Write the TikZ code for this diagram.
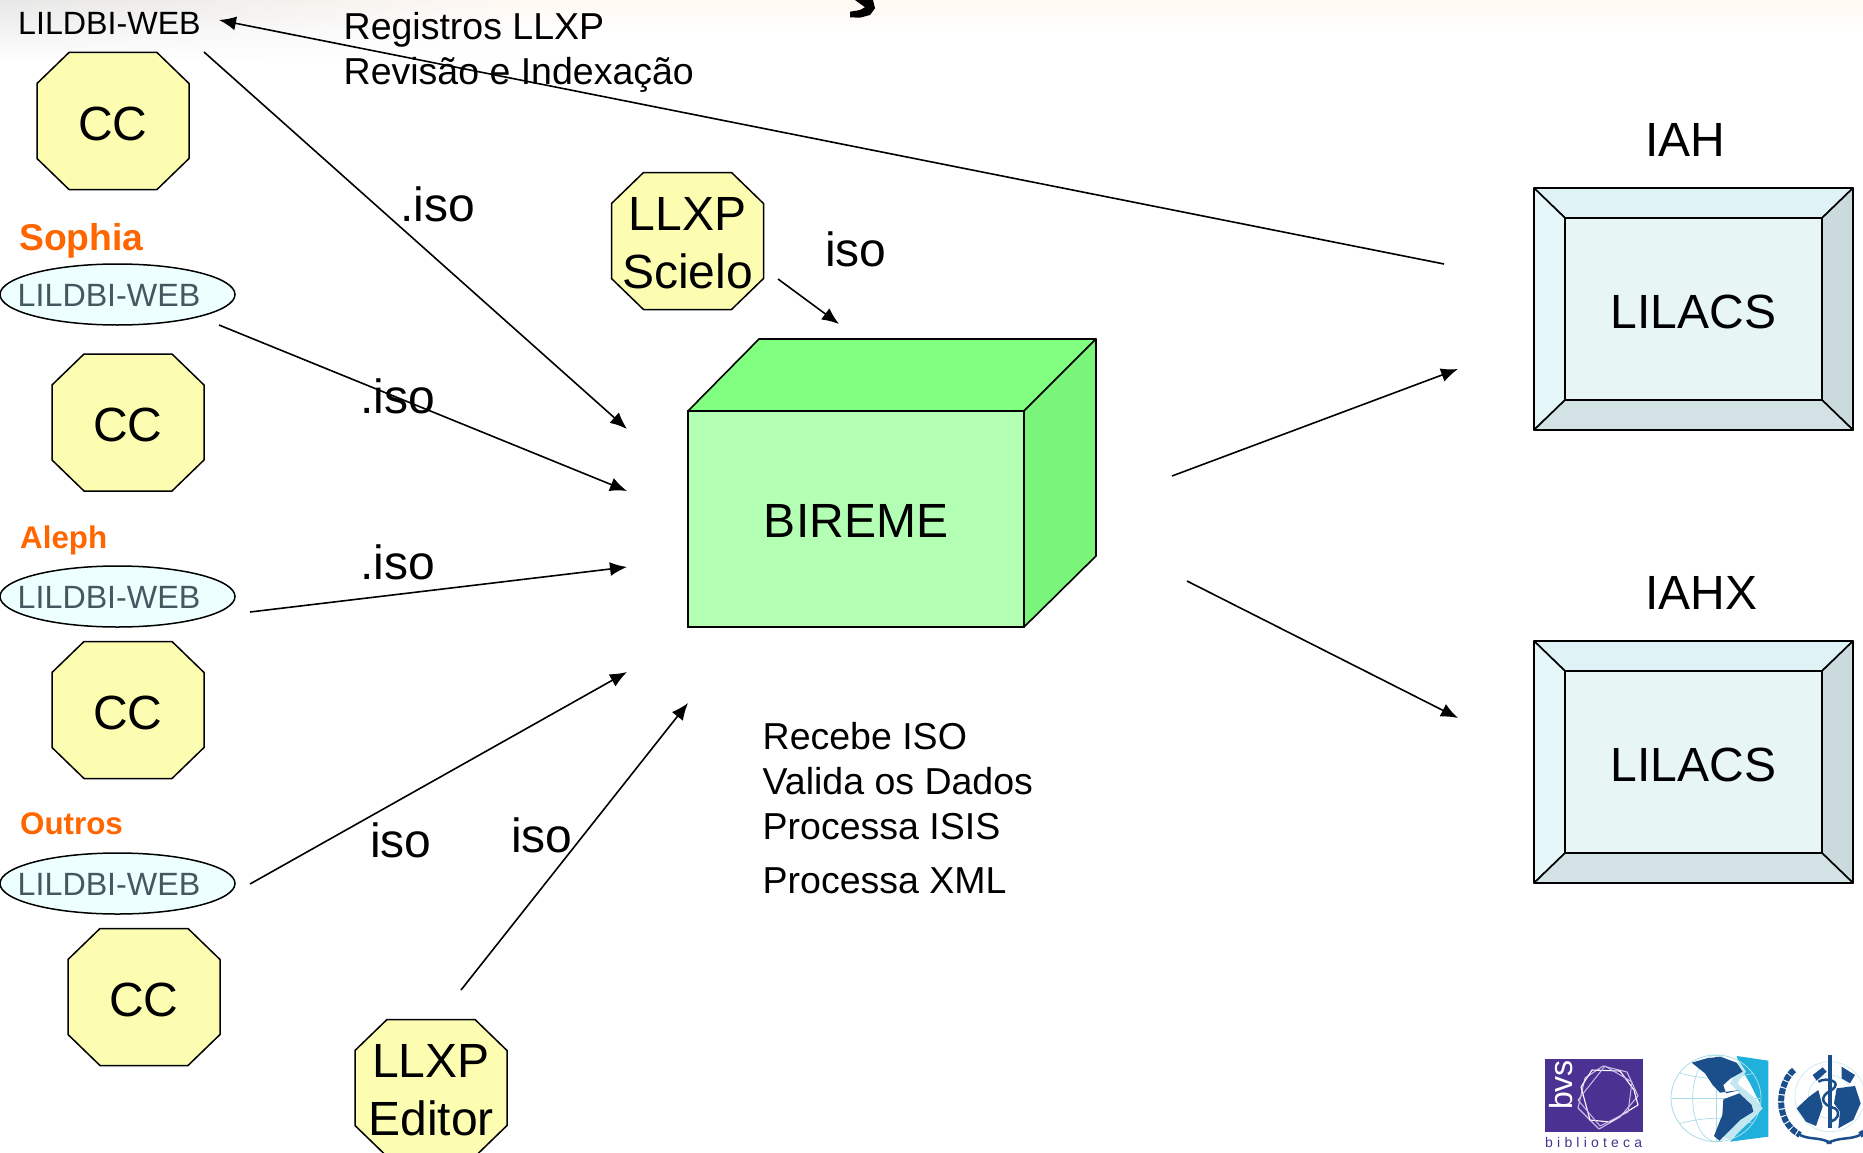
\documentclass[tikz,border=0pt]{standalone}
\usepackage{fontspec}
\setmainfont{Liberation Sans}
\newfontfamily\spacedfont[LetterSpace=30]{Liberation Sans}
\usetikzlibrary{arrows.meta,shapes.geometric,fadings}
\definecolor{octfill}{HTML}{FDFDB2}
\definecolor{ellfill}{HTML}{EEFFFF}
\definecolor{elltext}{HTML}{44595F}
\definecolor{orng}{HTML}{FF6600}
\definecolor{frontg}{HTML}{B3FFB3}
\definecolor{topg}{HTML}{80FF80}
\definecolor{sideg}{HTML}{7AF47A}
\definecolor{bvT}{HTML}{DFF3F6}
\definecolor{bvL}{HTML}{E6F7F9}
\definecolor{bvR}{HTML}{CBDADD}
\definecolor{bvB}{HTML}{D2E2E5}
\definecolor{bvC}{HTML}{E8F5F5}
\definecolor{bvspurple}{HTML}{4B3292}
\definecolor{bvslav}{HTML}{C9BDE8}
\definecolor{whoblue}{HTML}{1B4F8C}
\definecolor{panelblue}{HTML}{1FB1DC}
\definecolor{gridblue}{HTML}{A9DDEA}
\tikzset{
  octface/.style={draw=black,line width=1.5pt,fill=octfill,line join=round},
  octtext/.style={align=center,inner sep=0pt,font=\fontsize{48}{58}\selectfont},
  ell/.style={ellipse,draw=black,line width=1.5pt,fill=ellfill,minimum width=235pt,minimum height=61pt,
    inner sep=0pt,
    label={[inner sep=0pt,xshift=-8.5pt,yshift=-1pt,text=elltext,font=\fontsize{32.2}{32}\selectfont]center:LILDBI-WEB}},
  lbl/.style={inner sep=0pt,anchor=base west,font=\fontsize{37.5}{37}\selectfont},
  big/.style={inner sep=0pt,anchor=base west,font=\fontsize{48}{48}\selectfont},
  org/.style={inner sep=0pt,anchor=base west,text=orng,font=\fontsize{31.3}{31}\selectfont\bfseries},
  conn/.style={line width=1.6pt,-{Latex[length=17pt,width=14pt]}},
  plain/.style={draw=black,line width=1.6pt,line join=round},
}
% octagon: name, x, y, text
\newcommand{\octagon}[4]{%
  \begin{scope}[shift={(#2,#3)}]
    \path[octface] (-44,-68.5)--(44,-68.5)--(76,-37.5)--(76,37.5)--(44,68.5)--(-44,68.5)--(-76,37.5)--(-76,-37.5)--cycle;
    \node[octtext] (#1) at (0,2.5) {#4};
  \end{scope}}
\newcommand{\bevelbox}[3]{%
  \begin{scope}[shift={(0,#2)}]
    \path[plain,fill=bvT] (1534,188)--(1853,188)--(1822,218)--(1565,218)--cycle;
    \path[plain,fill=bvL] (1534,188)--(1565,218)--(1565,400)--(1534,430)--cycle;
    \path[plain,fill=bvR] (1853,188)--(1853,430)--(1822,400)--(1822,218)--cycle;
    \path[plain,fill=bvB] (1534,430)--(1565,400)--(1822,400)--(1853,430)--cycle;
    \node[draw=black,line width=1.6pt,fill=bvC,minimum width=257pt,minimum height=182pt,inner sep=0pt,
      label={[inner sep=0pt,yshift=-3pt,font=\fontsize{48}{48}\selectfont]center:#3}] (#1) at (1693.5,309) {};
  \end{scope}}
\begin{document}
\begin{tikzpicture}[x=1pt,y=-1pt]
\useasboundingbox (0,0) rectangle (1863,1153);
\clip (0,0) rectangle (1863,1153);
% background
\fill[white] (0,0) rectangle (1863,1153);
\shade[top color=orange!5!white,bottom color=white] (0,0) rectangle (1863,32);
\shade[top color=black!9,bottom color=white,path fading=east] (0,0) rectangle (520,62);
% fragment of cut-off title
\fill[black] (850,11.7)--(860,10)--(865,7.3)--(855,0)--(873,0)--(875,8.3)--(870,15)--(860,17.7)--(850,17.3)--cycle;

% left column
\node[lbl,font=\fontsize{32.2}{32}\selectfont] (top) at (18,35) {LILDBI-WEB};
\octagon{cc1}{113}{121}{CC}
\node[org,font=\fontsize{37.3}{37}\selectfont\bfseries] (sophia) at (19,250) {Sophia};
\node[ell] (e1) at (117.5,294.5) {};
\octagon{cc2}{128}{422.5}{CC}
\node[org] (aleph) at (20,548) {Aleph};
\node[ell] (e2) at (117.5,596.5) {};
\octagon{cc3}{128}{710}{CC}
\node[org] (outros) at (20,834) {Outros};
\node[ell] (e3) at (117.5,883.5) {};
\octagon{cc4}{144}{997}{CC}

\octagon{scielo}{687.5}{241}{LLXP\\Scielo}
\octagon{editor}{431}{1088}{LLXP\\Editor}

% BIREME box
\path[plain,fill=topg] (688,411)--(759,339)--(1096,339)--(1024,411)--cycle;
\path[plain,fill=sideg] (1024,411)--(1096,339)--(1096,556)--(1024,627)--cycle;
\node[draw=black,line width=1.6pt,fill=frontg,minimum width=336pt,minimum height=216pt,inner sep=0pt,
  label={[inner sep=0pt,yshift=-2.4pt,font=\fontsize{48}{48}\selectfont]center:BIREME}] (bireme) at (856,519) {};

% LILACS boxes
\bevelbox{lil1}{0}{LILACS}
\bevelbox{lil2}{453}{LILACS}

% labels
\node[lbl] (reg) at (343.5,40) {Registros LLXP};
\node[lbl] (rev) at (343.5,85) {Revisão e Indexação};
\node[big] (iso1) at (400,221) {.iso};
\node[big] (iso2) at (360,413) {.iso};
\node[big] (iso3) at (360,579) {.iso};
\node[big] (iso4) at (370,857) {iso};
\node[big] (iso5) at (511,852) {iso};
\node[big] (iso6) at (825,266) {iso};
\node[big] (iah) at (1645,157) {IAH};
\node[big] (iahx) at (1645,609) {IAHX};
\node[lbl] (p1) at (762.5,749) {Recebe ISO};
\node[lbl] (p2) at (762.5,794) {Valida os Dados};
\node[lbl] (p3) at (762.5,839) {Processa ISIS};
\node[lbl] (p4) at (762.5,893) {Processa XML};

% connector end points
\coordinate (a1s) at (1444,264); \coordinate (a1e) at (219,20);
\coordinate (a2s) at (204,52);   \coordinate (a2e) at (627,429);
\coordinate (a3s) at (219,325);  \coordinate (a3e) at (627,491);
\coordinate (a4s) at (250,612);  \coordinate (a4e) at (627,567);
\coordinate (a5s) at (250,884);  \coordinate (a5e) at (627,672);
\coordinate (a6s) at (461,990);  \coordinate (a6e) at (688,703);
\coordinate (a7s) at (778,279);  \coordinate (a7e) at (839,324);
\coordinate (a8s) at (1172,476); \coordinate (a8e) at (1458,369);
\coordinate (a9s) at (1187,581); \coordinate (a9e) at (1458,718);
\draw[conn] (a1s)--(a1e);
\draw[conn] (a2s)--(a2e);
\draw[conn] (a3s)--(a3e);
\draw[conn] (a4s)--(a4e);
\draw[conn] (a5s)--(a5e);
\draw[conn] (a6s)--(a6e);
\draw[conn] (a7s)--(a7e);
\draw[conn] (a8s)--(a8e);
\draw[conn] (a9s)--(a9e);

% bvs logo
\fill[bvspurple] (1545,1059) rectangle (1643,1132);
\node[inner sep=0pt,anchor=base west,rotate=90,text=white,font=\fontsize{32}{32}\selectfont] (bvs) at (1572,1110) {bvs};
\draw[bvslav,line width=1.1pt,line join=round] (1585,1078)--(1603,1066)--(1627,1072)--(1638,1096)--(1620,1117)--(1599,1129)--(1578,1108)--cycle;
\draw[white,line width=1.1pt,line join=round] (1581,1087)--(1592,1070)--(1620,1071)--(1634,1090)--(1638,1105)--(1610,1122)--(1590,1120)--cycle;
\draw[bvslav,line width=1pt,line join=round] (1578,1100)--(1605,1066)--(1632,1082)--(1628,1112)--(1600,1126)--cycle;
\node[inner sep=0pt,anchor=base west,text=bvspurple,font=\fontsize{14}{14}\selectfont\spacedfont] (bib) at (1545,1147) {biblioteca};

% globe logo
\begin{scope}[shift={(1640,1040)},x=.3333pt,y=-.3333pt]
  \fill[panelblue] (290,48)--(385,62)--(385,290)--(270,305)--(330,240)--(360,190)--(330,130)--(300,80)--cycle;
  \draw[gridblue,line width=.8pt] (228,175) circle[x radius=135,y radius=130];
  \draw[gridblue,line width=.7pt] (228,175) ellipse[x radius=70,y radius=130];
  \draw[gridblue,line width=.7pt] (228,45)--(228,305);
  \draw[gridblue,line width=.7pt] (95,175)--(360,175);
  \draw[gridblue,line width=.7pt] (120,100) .. controls (200,120) and (260,120) .. (340,100);
  \draw[gridblue,line width=.7pt] (120,250) .. controls (200,230) and (260,230) .. (340,250);
  \fill[gridblue!70!white] (295,60)--(318,95)--(290,130)--(340,170)--(368,205)--(335,240)--(270,300)--(250,290)--(300,240)--(330,190)--(270,130)--(290,90)--cycle;
  \fill[whoblue] (155,68)--(200,55)--(240,50)--(290,68)--(308,95)--(272,115)--(250,135)--(258,160)--(300,150)--(240,158)--(218,135)--(195,100)--cycle;
  \fill[whoblue] (250,178)--(298,160)--(335,195)--(340,215)--(300,240)--(262,278)--(238,302)--(222,288)--(247,225)--cycle;
\end{scope}

% WHO logo
\begin{scope}[shift={(1640,1040)},x=.3333pt,y=-.3333pt]
  \draw[gridblue!60!white,line width=.7pt] (570,170) circle[radius=105];
  \draw[gridblue!60!white,line width=.7pt] (570,170) circle[radius=65];
  \draw[whoblue,line width=6pt,dash pattern=on 6pt off 1.2pt] (462,90) .. controls (415,130) and (400,240) .. (480,285);
  \draw[whoblue,line width=2.5pt] (480,285) .. controls (510,300) and (540,290) .. (575,310);
  \draw[whoblue,line width=6pt,dash pattern=on 6pt off 1.2pt] (680,85) .. controls (725,130) and (740,240) .. (660,285);
  \draw[whoblue,line width=2.5pt] (660,285) .. controls (630,300) and (600,290) .. (560,310);
  \fill[whoblue] (470,205)--(505,172)--(535,150)--(548,200)--(528,258)--(498,245)--cycle;
  \fill[whoblue] (590,145)--(645,138)--(662,190)--(640,240)--(595,265)--(600,215)--(582,190)--cycle;
  \fill[whoblue] (518,105)--(548,82)--(560,95)--(530,122)--cycle;
  \fill[whoblue] (605,80)--(645,105)--(630,130)--(605,115)--cycle;
  \draw[whoblue,line width=4.5pt] (570,45)--(570,265);
  \draw[white,line width=1.2pt] (535,125) .. controls (560,110) and (610,125) .. (575,150) .. controls (535,170) and (545,195) .. (585,205) .. controls (605,220) and (590,240) .. (572,245);
  \draw[whoblue,line width=2.5pt] (535,125) .. controls (560,110) and (610,125) .. (575,150) .. controls (535,170) and (545,195) .. (585,205) .. controls (605,220) and (590,240) .. (572,245);
\end{scope}
\end{tikzpicture}
\end{document}
